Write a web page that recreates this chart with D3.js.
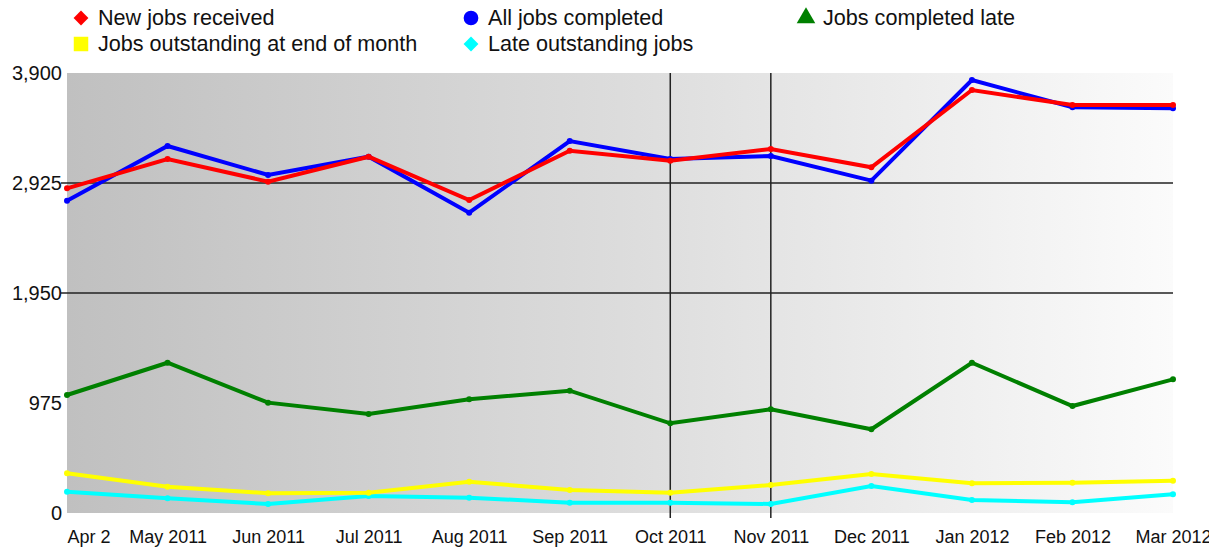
<!DOCTYPE html>
<html>
<head>
<meta charset="utf-8">
<script src="https://cdn.jsdelivr.net/npm/d3@7"></script>
<style>
  body { margin: 0; background: #fff; }
  text { font-family: "Liberation Sans", Arial, sans-serif; }
</style>
</head>
<body>
<div id="chart"></div>
<script>
var months = ["Apr 2011","May 2011","Jun 2011","Jul 2011","Aug 2011","Sep 2011",
              "Oct 2011","Nov 2011","Dec 2011","Jan 2012","Feb 2012","Mar 2012"];
var monthLabels = ["Apr 2","May 2011","Jun 2011","Jul 2011","Aug 2011","Sep 2011",
                   "Oct 2011","Nov 2011","Dec 2011","Jan 2012","Feb 2012","Mar 2012"];
var yTicks = [0, 975, 1950, 2925, 3900];
var gridValues = [1950, 2925];
var markedMonths = ["Oct 2011", "Nov 2011"];

var newJobs        = [2878,3138,2937,3158,2774,3211,3123,3226,3064,3749,3616,3616];
var allCompleted   = [2768,3253,2996,3158,2662,3297,3138,3164,2946,3838,3596,3587];
var completedLate  = [1046,1332,978,878,1008,1084,795,919,742,1332,948,1185];
var outstanding    = [352,233,175,180,277,204,180,248,346,263,269,286];
var lateOutstanding= [189,130,80,151,136,91,91,80,239,115,95,166];

var series = [
  {name: "Jobs completed late", values: completedLate, color: "#008000"},
  {name: "Late outstanding jobs", values: lateOutstanding, color: "#00ffff"},
  {name: "Jobs outstanding at end of month", values: outstanding, color: "#ffff00"},
  {name: "All jobs completed", values: allCompleted, color: "#0000ff"},
  {name: "New jobs received", values: newJobs, color: "#ff0000"}
];

var width = 1209, height = 553;
var plotLeft = 67, plotRight = 1173, plotTop = 73, plotBottom = 513;

var svg = d3.select("#chart").append("svg")
    .attr("width", width)
    .attr("height", height);

var x = d3.scalePoint().domain(months).range([plotLeft, plotRight]);
var y = d3.scaleLinear().domain([0, 3900]).range([plotBottom, plotTop]);

// background gradient
var grad = svg.append("defs").append("linearGradient")
    .attr("id", "bg").attr("x1", "0").attr("x2", "1").attr("y1", "0").attr("y2", "0");
grad.append("stop").attr("offset", "0").attr("stop-color", "#c0c0c0");
grad.append("stop").attr("offset", "0.5").attr("stop-color", "#dcdcdc");
grad.append("stop").attr("offset", "1").attr("stop-color", "#fbfbfb");

svg.append("rect")
    .attr("x", plotLeft).attr("y", plotTop)
    .attr("width", plotRight - plotLeft).attr("height", plotBottom - plotTop)
    .attr("fill", "url(#bg)");

// horizontal grid lines
svg.selectAll(".hgrid").data(gridValues).enter().append("line")
    .attr("class", "hgrid")
    .attr("x1", plotLeft - 6).attr("x2", plotRight)
    .attr("y1", d => y(d)).attr("y2", d => y(d))
    .attr("stroke", "#222").attr("stroke-width", 1.5);

// vertical marker lines
svg.selectAll(".vgrid").data(markedMonths).enter().append("line")
    .attr("class", "vgrid")
    .attr("x1", d => x(d)).attr("x2", d => x(d))
    .attr("y1", plotTop).attr("y2", plotBottom + 5)
    .attr("stroke", "#222").attr("stroke-width", 1.5);

// y axis labels
var yAxis = svg.append("g")
    .attr("transform", "translate(" + plotLeft + ",0)")
    .call(d3.axisLeft(y).tickValues(yTicks).tickFormat(d3.format(",")).tickSize(0).tickPadding(5));
yAxis.select(".domain").remove();
yAxis.selectAll("text").attr("font-size", 20).attr("fill", "#111")
    .attr("font-family", "Liberation Sans, Arial, sans-serif");

// x axis labels
var xAxis = svg.append("g")
    .attr("transform", "translate(0," + plotBottom + ")")
    .call(d3.axisBottom(x).tickFormat((d, i) => monthLabels[i]).tickSize(0).tickPadding(17));
xAxis.select(".domain").remove();
xAxis.selectAll("text").attr("font-size", 18).attr("fill", "#111")
    .attr("font-family", "Liberation Sans, Arial, sans-serif")
    .attr("text-anchor", (d, i) => i === 0 ? "start" : "middle");

// lines
var line = d3.line()
    .x((d, i) => x(months[i]))
    .y(d => y(d));

series.forEach(function(s) {
  svg.append("path")
      .datum(s.values)
      .attr("fill", "none")
      .attr("stroke", s.color)
      .attr("stroke-width", 4)
      .attr("stroke-linejoin", "miter")
      .attr("d", line);
  svg.selectAll(null).data(s.values).enter().append("circle")
      .attr("cx", (d, i) => x(months[i]))
      .attr("cy", d => y(d))
      .attr("r", 3)
      .attr("fill", s.color);
});

// legend
var legendItems = [
  {name: "New jobs received", color: "#ff0000", shape: "diamond", x: 81, y: 18},
  {name: "All jobs completed", color: "#0000ff", shape: "circle", x: 471, y: 18},
  {name: "Jobs completed late", color: "#008000", shape: "triangle", x: 806, y: 18},
  {name: "Jobs outstanding at end of month", color: "#ffff00", shape: "square", x: 81, y: 44},
  {name: "Late outstanding jobs", color: "#00ffff", shape: "diamond", x: 471, y: 44}
];

var shapeType = {diamond: d3.symbolSquare, circle: d3.symbolCircle, triangle: d3.symbolTriangle, square: d3.symbolSquare};
var shapeSize = {diamond: 110, circle: 170, triangle: 150, square: 210};

var lg = svg.selectAll(".legend").data(legendItems).enter().append("g")
    .attr("class", "legend")
    .attr("transform", d => "translate(" + d.x + "," + d.y + ")");

lg.append("path")
    .attr("d", d => d3.symbol().type(shapeType[d.shape]).size(shapeSize[d.shape])())
    .attr("transform", d => d.shape === "diamond" ? "rotate(45)" : null)
    .attr("fill", d => d.color);

lg.append("text")
    .attr("x", 17).attr("y", 7)
    .attr("font-size", 21.6)
    .attr("fill", "#111")
    .text(d => d.name);
</script>
</body>
</html>
